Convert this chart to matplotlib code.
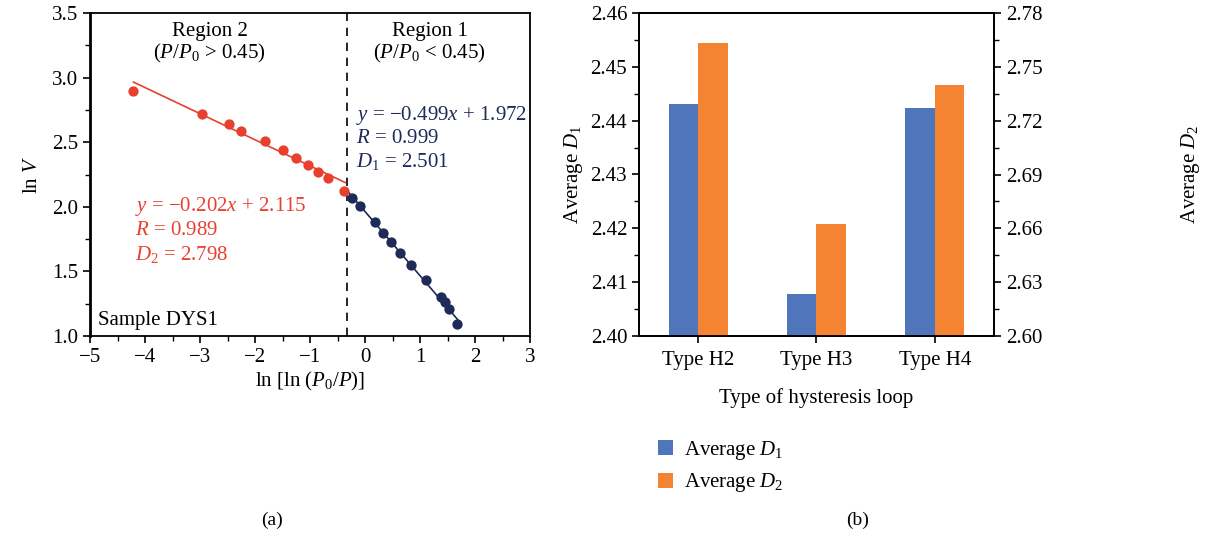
import numpy as np
import matplotlib
matplotlib.use("Agg")
import matplotlib.pyplot as plt
from matplotlib.ticker import MultipleLocator, FixedLocator, FormatStrFormatter

plt.rcParams['font.family'] = ['Liberation Serif', 'DejaVu Serif']
plt.rcParams['mathtext.fontset'] = 'custom'
plt.rcParams['mathtext.rm'] = 'Liberation Serif'
plt.rcParams['mathtext.it'] = 'Liberation Serif:italic'
plt.rcParams['axes.unicode_minus'] = True

# ---- data panel (a) ----
region2_x = [-4.21, -2.96, -2.48, -2.25, -1.82, -1.50, -1.25, -1.04, -0.86, -0.68, -0.38]
region2_y = [2.90, 2.72, 2.64, 2.59, 2.51, 2.44, 2.38, 2.32, 2.27, 2.22, 2.12]
region1_x = [-0.23, -0.09, 0.18, 0.32, 0.47, 0.64, 0.83, 1.10, 1.38, 1.45, 1.53, 1.67]
region1_y = [2.07, 2.01, 1.88, 1.80, 1.73, 1.64, 1.55, 1.43, 1.30, 1.26, 1.21, 1.09]
fit2_slope, fit2_icpt = -0.202, 2.115
boundary_x = -0.32

# ---- data panel (b) ----
categories = ['Type H2', 'Type H3', 'Type H4']
avg_D1 = [2.4431, 2.4078, 2.4423]
avg_D2 = [2.7631, 2.6623, 2.7400]
d1_ticks = [2.40, 2.41, 2.42, 2.43, 2.44, 2.45, 2.46]
d2_ticks = [2.60, 2.63, 2.66, 2.69, 2.72, 2.75, 2.78]

RED = '#E8402F'
NAVY = '#1E2A57'
BLUE = '#4F75BA'
ORANGE = '#F58432'
FS = 15
AFS = 15

fig = plt.figure(figsize=(12.11, 5.35), dpi=100)
W, H = 1211, 535

def rect(l, t, r, b):
    return [l / W, 1 - b / H, (r - l) / W, (b - t) / H]

# ================= panel (a) =================
ax = fig.add_axes(rect(90, 13, 530, 336))
ax.set_xlim(-5, 3)
ax.set_ylim(1.0, 3.5)
ax.xaxis.set_major_locator(MultipleLocator(1))
ax.xaxis.set_minor_locator(MultipleLocator(0.5))
ax.yaxis.set_major_locator(MultipleLocator(0.5))
ax.yaxis.set_minor_locator(MultipleLocator(0.25))
ax.yaxis.set_major_formatter(FormatStrFormatter('%.1f'))
ax.tick_params(which='both', direction='out', labelsize=FS, color='black')
ax.tick_params(which='major', length=5, width=1.2)
ax.tick_params(which='minor', length=3.5, width=1.0)
for s in ax.spines.values():
    s.set_linewidth(1.3)
ax.spines['left'].set_linewidth(2.0)

ax.axvline(boundary_x, color='black', ls=(0, (5, 4)), lw=1.2)

x2 = np.array(region2_x)
lx2 = np.array([x2.min(), boundary_x - 0.04])
ax.plot(lx2, fit2_slope * lx2 + fit2_icpt, color=RED, lw=1.2)
x1 = np.array(region1_x)
c1 = np.polyfit(x1, np.array(region1_y), 1)
lx1 = np.array([boundary_x + 0.02, x1.max() + 0.03])
ax.plot(lx1, np.polyval(c1, lx1), color=NAVY, lw=1.2)

ax.scatter(region2_x, region2_y, s=55, color=RED, zorder=3, linewidths=0)
ax.scatter(region1_x, region1_y, s=55, color=NAVY, zorder=3, linewidths=0)

ax.text(-2.82, 3.36, 'Region 2', ha='center', va='center', fontsize=AFS)
ax.text(-2.82, 3.19, r'($P$/$P_0$ > 0.45)', ha='center', va='center', fontsize=AFS)
ax.text(1.18, 3.36, 'Region 1', ha='center', va='center', fontsize=AFS)
ax.text(1.18, 3.19, r'($P$/$P_0$ < 0.45)', ha='center', va='center', fontsize=AFS)

ax.text(-0.16, 2.71, r'$y$ = −0.499$x$ + 1.972', color=NAVY, ha='left', va='center', fontsize=AFS)
ax.text(-0.16, 2.53, r'$R$ = 0.999', color=NAVY, ha='left', va='center', fontsize=AFS)
ax.text(-0.16, 2.35, r'$D_1$ = 2.501', color=NAVY, ha='left', va='center', fontsize=AFS)

ax.text(-4.18, 2.00, r'$y$ = −0.202$x$ + 2.115', color=RED, ha='left', va='center', fontsize=AFS)
ax.text(-4.18, 1.82, r'$R$ = 0.989', color=RED, ha='left', va='center', fontsize=AFS)
ax.text(-4.18, 1.63, r'$D_2$ = 2.798', color=RED, ha='left', va='center', fontsize=AFS)

ax.text(-4.85, 1.12, 'Sample DYS1', ha='left', va='center', fontsize=FS)

ax.set_xlabel(r'ln [ln ($P_0$/$P$)]', fontsize=FS)
ax.xaxis.set_label_coords(0.5, -0.105)
ax.set_ylabel(r'ln $V$', fontsize=FS)
ax.yaxis.set_label_coords(-0.11, 0.5)
fig.text(272 / W, 1 - 520 / H, '(a)', ha='center', va='center', fontsize=FS - 1)

# ================= panel (b) =================
bx = fig.add_axes(rect(639, 13, 994, 336))
xpos = np.arange(len(categories))
bw = 0.25
bx.bar(xpos - bw / 2, avg_D1, width=bw, color=BLUE, label=r'Average $D_1$')
bx.set_xlim(-0.5, 2.5)
bx.set_ylim(d1_ticks[0], d1_ticks[-1])
bx.yaxis.set_major_locator(FixedLocator(d1_ticks))
bx.yaxis.set_minor_locator(FixedLocator(list(np.array(d1_ticks[:-1]) + 0.005)))
bx.yaxis.set_major_formatter(FormatStrFormatter('%.2f'))
bx.set_xticks(xpos)
bx.set_xticklabels(categories)
bx.set_ylabel(r'Average $D_1$', fontsize=FS)
bx.yaxis.set_label_coords(-0.152, 0.5)
bx.set_xlabel('Type of hysteresis loop', fontsize=FS)
bx.xaxis.set_label_coords(0.5, -0.161)

b2 = bx.twinx()
b2.bar(xpos + bw / 2, avg_D2, width=bw, color=ORANGE, label=r'Average $D_2$')
b2.set_ylim(d2_ticks[0], d2_ticks[-1])
b2.yaxis.set_major_locator(FixedLocator(d2_ticks))
b2.yaxis.set_minor_locator(FixedLocator(list(np.array(d2_ticks[:-1]) + 0.015)))
b2.yaxis.set_major_formatter(FormatStrFormatter('%.2f'))
b2.set_ylabel(r'Average $D_2$', fontsize=FS, rotation=90)
b2.yaxis.set_label_coords(1.52, 0.5)

for a in (bx, b2):
    a.tick_params(which='both', direction='out', labelsize=FS, color='black')
    a.tick_params(which='major', length=5, width=1.2)
    a.tick_params(which='minor', length=3.5, width=1.0)
    for s in a.spines.values():
        s.set_linewidth(1.3)
bx.tick_params(axis='x', pad=6)

h1, l1 = bx.get_legend_handles_labels()
h2, l2 = b2.get_legend_handles_labels()
fig.legend(h1 + h2, l1 + l2, loc='upper left', bbox_to_anchor=(658 / W, 1 - 439 / H),
           frameon=False, fontsize=FS, handlelength=0.72, handleheight=0.72,
           handletextpad=0.55, labelspacing=0.45, borderpad=0, borderaxespad=0)
fig.text(858 / W, 1 - 520 / H, '(b)', ha='center', va='center', fontsize=FS - 1)

fig.savefig('out.png', dpi=100)
